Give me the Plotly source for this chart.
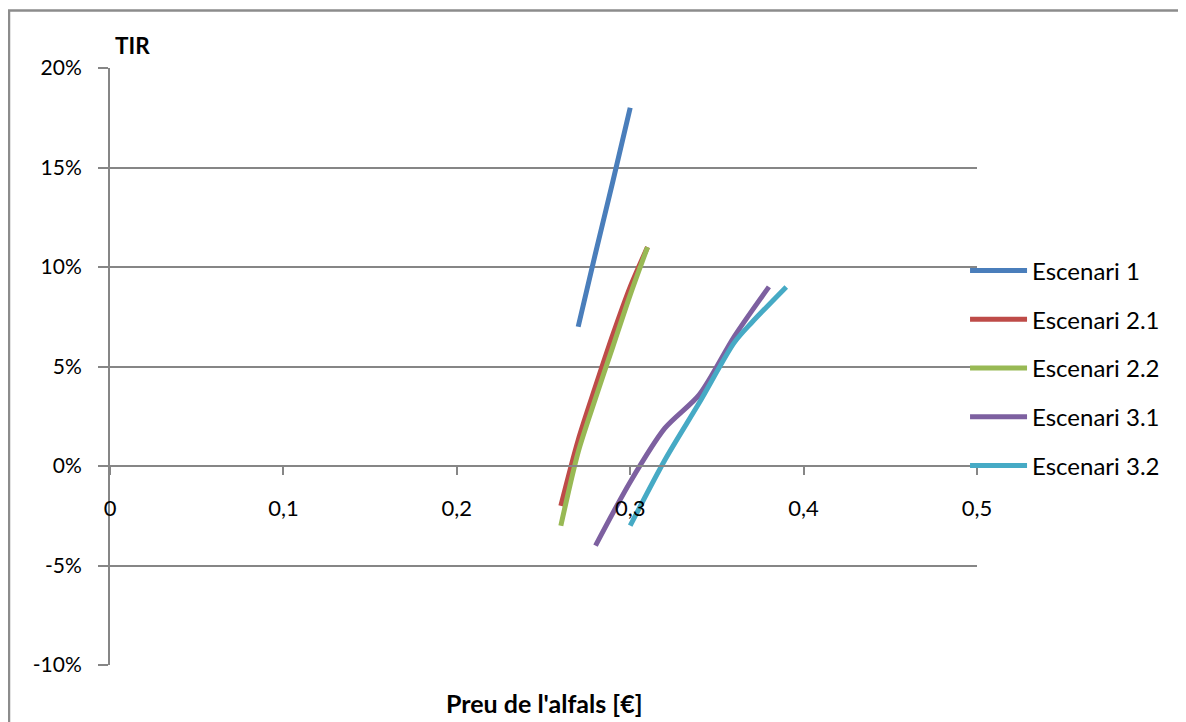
import plotly.graph_objects as go

# Data (x = price of alfalfa in €, y = IRR as fraction)
esc1_x = [0.27, 0.28, 0.29, 0.30]
esc1_y = [0.07, 0.107, 0.143, 0.18]

esc21_x = [0.26, 0.27, 0.28, 0.29, 0.30, 0.31]
esc21_y = [-0.02, 0.013, 0.040, 0.066, 0.090, 0.11]

esc22_x = [0.26, 0.27, 0.28, 0.29, 0.30, 0.31]
esc22_y = [-0.03, 0.007, 0.034, 0.060, 0.086, 0.11]

esc31_x = [0.28, 0.30, 0.32, 0.34, 0.36, 0.38]
esc31_y = [-0.04, -0.008, 0.019, 0.036, 0.065, 0.09]

esc32_x = [0.30, 0.32, 0.34, 0.36, 0.37, 0.39]
esc32_y = [-0.03, 0.003, 0.032, 0.062, 0.072, 0.09]

series_names = ["Escenari 1", "Escenari 2.1", "Escenari 2.2", "Escenari 3.1", "Escenari 3.2"]
series_colors = ["#4A7EBB", "#BE4B48", "#98B954", "#7D60A0", "#46AAC5"]

x_tickvals = [0, 0.1, 0.2, 0.3, 0.4, 0.5]
x_ticktext = ["0", "0,1", "0,2", "0,3", "0,4", "0,5"]
y_tickvals = [-0.10, -0.05, 0.0, 0.05, 0.10, 0.15, 0.20]
y_ticktext = ["-10%", "-5%", "0%", "5%", "10%", "15%", "20%"]

FONT = "Lato"
GRID = "#868686"

fig = go.Figure()
all_series = [(esc1_x, esc1_y), (esc21_x, esc21_y), (esc22_x, esc22_y),
              (esc31_x, esc31_y), (esc32_x, esc32_y)]
for i, ((xs, ys), name, col) in enumerate(zip(all_series, series_names, series_colors)):
    fig.add_trace(go.Scatter(
        x=xs, y=ys, name=name, mode="lines",
        line=dict(color=col, width=5, shape="spline", smoothing=0.8),
        legendgroup=f"g{i}",
    ))

# The page body has an 8px margin, so the figure is 8px smaller than the window
fig.update_layout(
    width=1178, height=714,
    margin=dict(l=102, r=209, t=60, b=57),
    paper_bgcolor="white", plot_bgcolor="white",
    font=dict(family=FONT, size=21, color="black"),
    showlegend=True,
    legend=dict(
        x=0.9862, xanchor="left", y=0.4975, yanchor="middle",
        bgcolor="rgba(0,0,0,0)", tracegroupgap=14.5,
        font=dict(family=FONT, size=24, color="black"),
        itemwidth=57,
    ),
    xaxis=dict(
        range=[0, 0.5], anchor="free", position=1/3,
        tickvals=x_tickvals, ticktext=x_ticktext,
        showgrid=False, zeroline=False,
        showline=True, linecolor=GRID, linewidth=2,
        ticks="outside", ticklen=8, tickwidth=1.5, tickcolor=GRID,
        ticklabelstandoff=15,
        tickfont=dict(family=FONT, size=22),
    ),
    yaxis=dict(
        range=[-0.10, 0.20],
        tickvals=y_tickvals, ticktext=y_ticktext,
        showgrid=True, gridcolor=GRID, gridwidth=2,
        zeroline=False,
        showline=True, linecolor=GRID, linewidth=2,
        ticks="outside", ticklen=10, tickwidth=2, tickcolor=GRID,
        ticklabelstandoff=12,
        tickfont=dict(family=FONT, size=21),
    ),
    annotations=[
        dict(text="<b>TIR</b>", x=0.0265, y=1.0385, xref="paper", yref="paper",
             showarrow=False, xanchor="center", yanchor="middle",
             font=dict(family=FONT, size=22.5)),
        dict(text="<b>Preu de l'alfals [€]</b>", x=0.5, y=-0.0637, xref="paper", yref="paper",
             showarrow=False, xanchor="center", yanchor="middle",
             font=dict(family=FONT, size=25)),
    ],
    shapes=[
        dict(type="rect", xref="paper", yref="paper",
             x0=-0.1165, x1=1.2388, y0=-0.12, y1=1.0963,
             line=dict(color="#8C8C8C", width=2.5), fillcolor="rgba(0,0,0,0)",
             layer="below"),
    ],
)

fig.write_html("out.html")
